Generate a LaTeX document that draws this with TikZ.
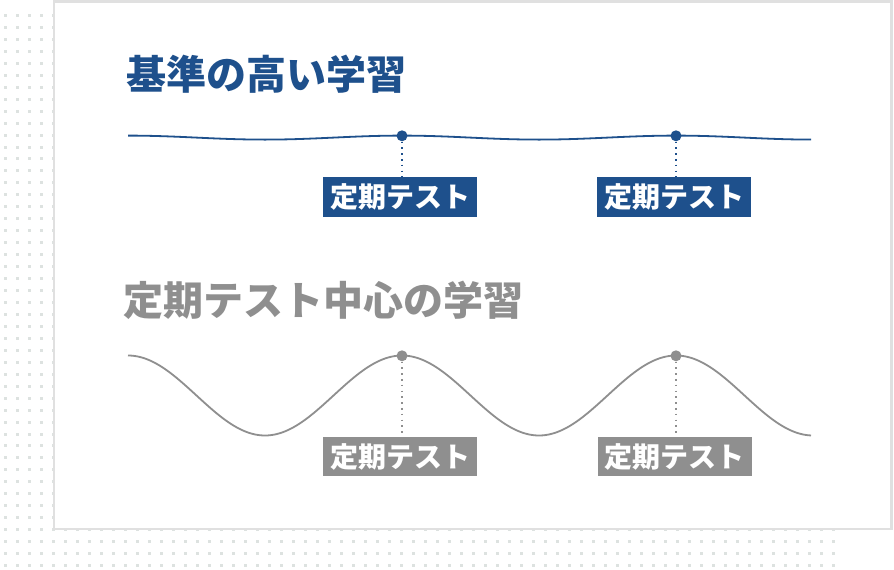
\documentclass[tikz,border=0pt]{standalone}
\usepackage{fontspec}
\newfontfamily\jp{Noto Sans CJK JP}
\definecolor{navy}{RGB}{30,80,140}
\definecolor{midgray}{RGB}{143,143,143}
\definecolor{dotgray}{RGB}{221,226,224}
\definecolor{boxline}{RGB}{224,224,224}
\tikzset{
  title/.style={anchor=base west,inner sep=0pt,font=\jp\bfseries\fontsize{40}{42}\selectfont},
  tag/.style={minimum width=154pt,minimum height=39.5pt,inner sep=0pt,text=white,font=\jp\bfseries\fontsize{28}{30}\selectfont},
  marker/.style={circle,inner sep=0pt,minimum size=11pt},
  leader/.style={line width=1.6pt,dash pattern=on 1.6pt off 4.2pt},
  wave/.style={line width=1.8pt,smooth,samples=240}
}
\begin{document}
\begin{tikzpicture}[x=1pt,y=-1pt]
\useasboundingbox (0,0) rectangle (894,570);
% dot grid
\foreach \i in {0,...,69}{
  \foreach \j in {0,...,46}{
    \fill[dotgray] ({5.5+12*\i-1.5},{15.5+11.957*\j-1.5}) rectangle ++(3,3);
  }
}
% panel
\draw[boxline,fill=white,line width=2.6pt] (54,1.3) rectangle (891.7,529);
% titles
\node[title,text=navy] (t1) at (126,89.5) {基準の高い学習};
\node[title,text=midgray] (t2) at (123,315.5) {定期テスト中心の学習};
% blue wave
\draw[navy,wave] plot[domain=128:811] (\x,{137.6-2*cos((\x-128)/274*360)});
% gray wave
\draw[midgray,wave] plot[domain=128:811] (\x,{395.5-40*cos((\x-128)/274*360)});
% markers
\node[marker,fill=navy] (b1) at (402,135.8) {};
\node[marker,fill=navy] (b2) at (676,135.8) {};
\node[marker,fill=midgray] (g1) at (402,355.8) {};
\node[marker,fill=midgray] (g2) at (676,355.8) {};
% tags
\node[tag,fill=navy] (bt1) at (400,197) {定期テスト};
\node[tag,fill=navy] (bt2) at (674,197) {定期テスト};
\node[tag,fill=midgray] (gt1) at (400,456.5) {定期テスト};
\node[tag,fill=midgray] (gt2) at (674.5,456.5) {定期テスト};
% leaders
\draw[leader,navy] (b1.south) -- (b1.south |- bt1.north);
\draw[leader,navy] (b2.south) -- (b2.south |- bt2.north);
\draw[leader,midgray] (g1.south) -- (g1.south |- gt1.north);
\draw[leader,midgray] (g2.south) -- (g2.south |- gt2.north);
\end{tikzpicture}
\end{document}
